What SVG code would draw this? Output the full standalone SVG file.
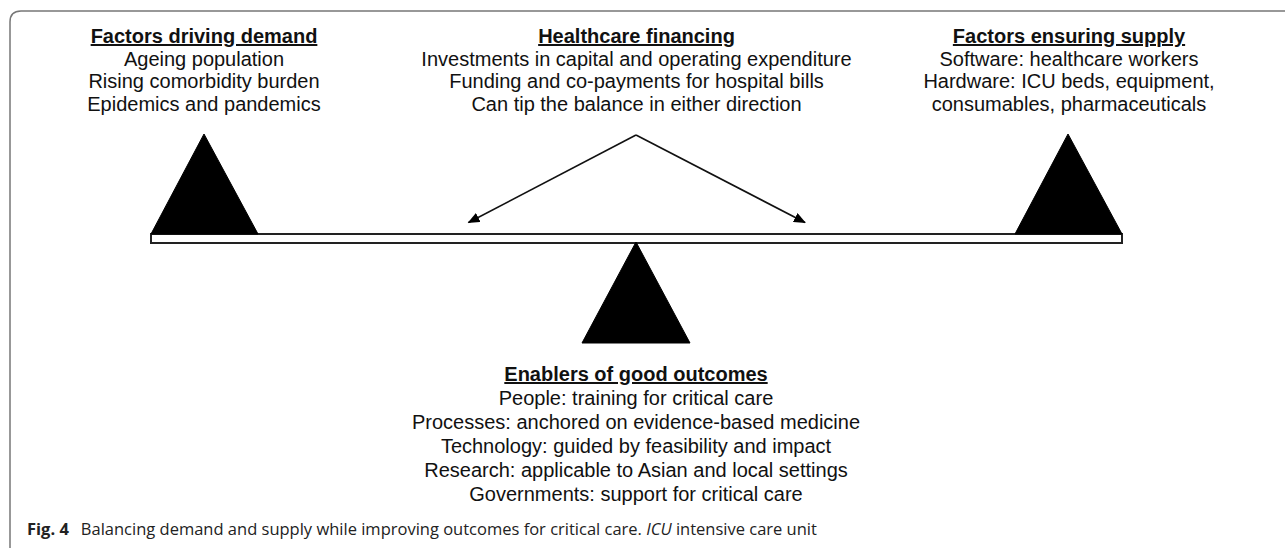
<svg xmlns="http://www.w3.org/2000/svg" width="1285" height="548" viewBox="0 0 1285 548">
  <style>
    .lbl { font-family: "Liberation Sans", Arial, sans-serif; font-size: 20px; fill: #111; text-anchor: middle; }
    .head { font-weight: bold; text-decoration: underline; }
    .tri { fill: #000; stroke: #000; stroke-width: 1; }
    .conn { stroke: #111; stroke-width: 1.6; fill: none; marker-end: url(#arrow); }
    .cap { font-family: "Open Sans", "Noto Sans", sans-serif; font-size: 16.5px; fill: #222; }
  </style>
  <defs>
    <marker id="arrow" markerWidth="12" markerHeight="10" refX="11" refY="5" orient="auto" markerUnits="userSpaceOnUse">
      <path d="M0,0 L12,5 L0,10 Z" fill="#000"/>
    </marker>
  </defs>

  <rect width="1285" height="548" fill="#fff"/>

  <!-- figure frame: top and left edges with rounded corner -->
  <path d="M10,548 L10,22 Q10,11 21,11 L1285,11" fill="none" stroke="#777" stroke-width="1.5"/>

  <!-- balance beam -->
  <g id="beam">
    <rect x="151" y="234" width="971" height="9" fill="#fff" stroke="#222" stroke-width="2"/>
  </g>

  <!-- demand side -->
  <g id="demand">
    <polygon class="tri" points="204,134 151,234 258,234"/>
    <text class="lbl head" x="204" y="43">Factors driving demand</text>
    <text class="lbl" x="204" y="65.7">Ageing population</text>
    <text class="lbl" x="204" y="88.3">Rising comorbidity burden</text>
    <text class="lbl" x="204" y="111">Epidemics and pandemics</text>
  </g>

  <!-- financing -->
  <g id="financing">
    <text class="lbl head" x="636.5" y="43">Healthcare financing</text>
    <text class="lbl" x="636.5" y="65.7">Investments in capital and operating expenditure</text>
    <text class="lbl" x="636.5" y="88.3">Funding and co-payments for hospital bills</text>
    <text class="lbl" x="636.5" y="111">Can tip the balance in either direction</text>
  </g>

  <!-- supply side -->
  <g id="supply">
    <polygon class="tri" points="1068,134 1015,234 1122,234"/>
    <text class="lbl head" x="1069" y="43">Factors ensuring supply</text>
    <text class="lbl" x="1069" y="65.7">Software: healthcare workers</text>
    <text class="lbl" x="1069" y="88.3">Hardware: ICU beds, equipment,</text>
    <text class="lbl" x="1069" y="111">consumables, pharmaceuticals</text>
  </g>

  <!-- fulcrum and enablers -->
  <g id="enablers">
    <polygon class="tri" points="636,242 582,343 690,343"/>
    <text class="lbl head" x="636" y="381">Enablers of good outcomes</text>
    <text class="lbl" x="636" y="404.5">People: training for critical care</text>
    <text class="lbl" x="636" y="428.5">Processes: anchored on evidence-based medicine</text>
    <text class="lbl" x="636" y="452.5">Technology: guided by feasibility and impact</text>
    <text class="lbl" x="636" y="476.5">Research: applicable to Asian and local settings</text>
    <text class="lbl" x="636" y="500.5">Governments: support for critical care</text>
  </g>

  <!-- financing arrows -->
  <g id="connectors">
    <line class="conn" x1="636" y1="135" x2="468.5" y2="222.5"/>
    <line class="conn" x1="636" y1="135" x2="805" y2="222.5"/>
  </g>

  <!-- caption -->
  <text class="cap" x="27" y="535"><tspan font-weight="bold">Fig. 4</tspan><tspan dx="12">Balancing demand and supply while improving outcomes for critical care. </tspan><tspan font-style="italic">ICU</tspan><tspan> intensive care unit</tspan></text>
</svg>
